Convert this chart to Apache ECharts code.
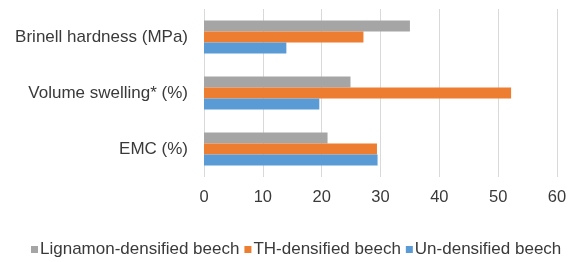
<!DOCTYPE html>
<html>
<head>
<meta charset="utf-8">
<script src="https://cdn.jsdelivr.net/npm/echarts@6/dist/echarts.min.js"></script>
<style>
  html, body { margin: 0; padding: 0; background: #fff; }
  #chart { width: 576px; height: 262px; }
</style>
</head>
<body>
<div id="chart"></div>
<script>
// categories bottom -> top (echarts draws category axis upward)
const categories = ['EMC (%)', 'Volume swelling* (%)', 'Brinell hardness (MPa)'];
const lignamon = [21.0, 24.9, 35.0];
const thDensified = [29.4, 52.2, 27.1];
const unDensified = [29.5, 19.6, 14.0];
const xTicks = { min: 0, max: 60, step: 10 };

var dom = document.getElementById('chart');
var myChart = echarts.init(dom, null, { renderer: 'canvas' });

const font = 'Liberation Sans, Arial, sans-serif';

var option = {
  animation: false,
  textStyle: { fontFamily: font },
  grid: { left: 204, right: 19, top: 9, bottom: 85, containLabel: false },
  legend: {
    top: 236,
    left: 26,
    icon: 'rect',
    itemWidth: 7,
    itemHeight: 7,
    itemGap: 5,
    textStyle: { fontSize: 17, color: '#3a3a3a', fontFamily: font, padding: [0, 0, 0, -3] }
  },
  xAxis: {
    type: 'value',
    min: xTicks.min,
    max: xTicks.max,
    interval: xTicks.step,
    axisLine: { show: false },
    axisTick: { show: false },
    splitLine: { lineStyle: { color: '#d9d9d9', width: 1 } },
    axisLabel: { fontSize: 16.5, color: '#3a3a3a', margin: 12 }
  },
  yAxis: {
    type: 'category',
    data: categories,
    axisLine: { show: false },
    axisTick: { show: false },
    axisLabel: { fontSize: 17, color: '#3a3a3a', margin: 16 }
  },
  series: [
    {
      name: 'Lignamon-densified beech',
      type: 'bar',
      data: lignamon,
      barWidth: 11,
      barGap: '0%',
      itemStyle: { color: '#a5a5a5' }
    },
    {
      name: 'TH-densified beech',
      type: 'bar',
      data: thDensified,
      barWidth: 11,
      barGap: '0%',
      itemStyle: { color: '#ed7d31' }
    },
    {
      name: 'Un-densified beech',
      type: 'bar',
      data: unDensified,
      barWidth: 11,
      barGap: '0%',
      itemStyle: { color: '#5b9bd5' }
    }
  ]
};

option && myChart.setOption(option);
</script>
</body>
</html>
